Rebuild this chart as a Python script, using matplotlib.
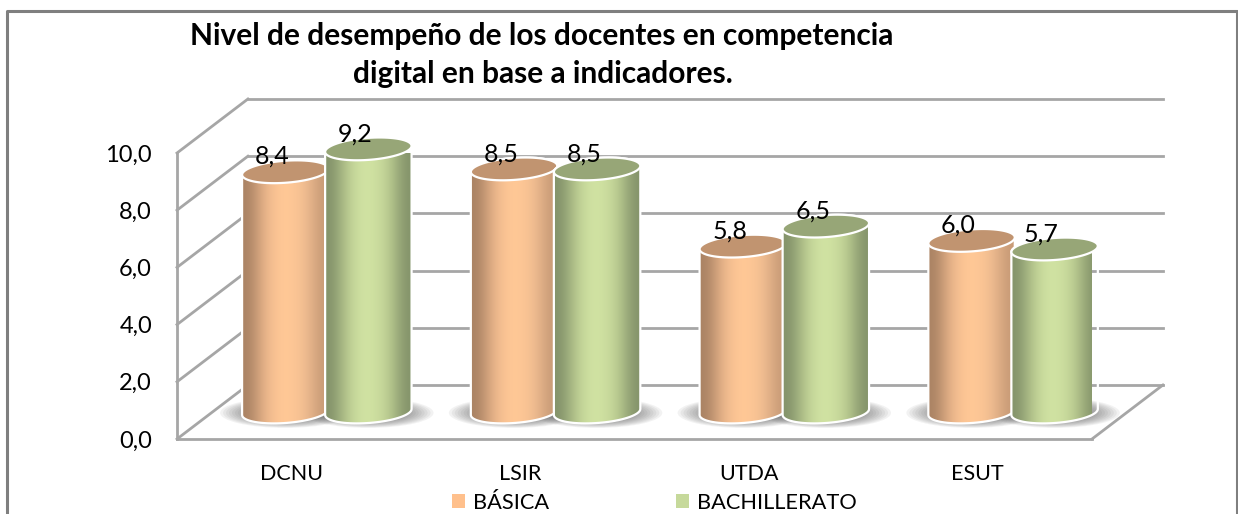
"""Nivel de desempeno chart, fake 3D cylinders drawn on a flat axes."""

import matplotlib

matplotlib.use("Agg")
import matplotlib.pyplot as plt
import numpy as np
from matplotlib.lines import Line2D
from matplotlib.patches import Ellipse, PathPatch, Patch
from matplotlib.path import Path

categories = ["DCNU", "LSIR", "UTDA", "ESUT"]
basica = [8.4, 8.5, 5.8, 6.0]
bachillerato = [9.2, 8.5, 6.5, 5.7]
y_ticks = [0, 2, 4, 6, 8, 10]
title_lines = ["Nivel de desempeño de los docentes en competencia",
               "digital en base a indicadores."]

W, H = 1238, 514
GRID = "#A6A6A6"
DEPTH_X, DEPTH_Y = 0.31, 1.888
OFFSET, HALF_W = 0.1815, 0.189
ELL_B, ELL_TILT = 0.385, 0.105

ORANGE = ["#A98263", "#E6B289", "#FFC896", "#FFC896", "#EEBB90", "#C79A76"]
GREEN = ["#83926A", "#B8C98F", "#D2E4A4", "#CFE1A1", "#B9CA90", "#84936A"]
ORANGE_TOP = "#C19470"
GREEN_TOP = "#97A677"

plt.rcParams["font.family"] = ["Lato", "DejaVu Sans"]

fig = plt.figure(figsize=(W / 100, H / 100), dpi=100)
ax = fig.add_axes([177 / W, (H - 439) / H, 915 / W, 286 / H])
ax.set_xlim(0, 4)
ax.set_ylim(0, 10)
ax.patch.set_visible(False)

for s in ["top", "right"]:
    ax.spines[s].set_visible(False)
for s in ["left", "bottom"]:
    ax.spines[s].set_color(GRID)
    ax.spines[s].set_linewidth(2)

# walls
for v in y_ticks:
    ax.plot([DEPTH_X, 4 + DEPTH_X], [v + DEPTH_Y] * 2, color=GRID, lw=2, clip_on=False, zorder=1)
    ax.plot([0, DEPTH_X], [v, v + DEPTH_Y], color=GRID, lw=2, clip_on=False, zorder=1)
ax.plot([4, 4 + DEPTH_X], [0, DEPTH_Y], color=GRID, lw=2, clip_on=False, zorder=1)


def ellipse_xy(cx, cy):
    t = np.linspace(0, 2 * np.pi, 80)
    return cx + HALF_W * np.cos(t), cy + ELL_B * np.sin(t) + ELL_TILT * np.cos(t)


def shadow(cx, z):
    for k in range(16):
        f = 1 - k / 22
        ax.add_patch(Ellipse((cx, DEPTH_Y / 2 - 0.03), 0.57 * f, 1.05 * f, fc="#505050", ec="none",
                             alpha=0.07, zorder=z, clip_on=False))


def cylinder(cx, value, colors, top_color, z):
    base_y = DEPTH_Y / 2
    top_y = base_y + value
    t = np.linspace(np.pi, 2 * np.pi, 40)
    lo_x = cx + HALF_W * np.cos(t)
    lo_y = base_y + ELL_B * np.sin(t) + ELL_TILT * np.cos(t)
    t2 = np.linspace(0, np.pi, 40)
    hi_x = cx + HALF_W * np.cos(t2)
    hi_y = top_y + ELL_B * np.sin(t2) + ELL_TILT * np.cos(t2)
    verts = np.column_stack([np.r_[lo_x, hi_x], np.r_[lo_y, hi_y]])
    body = PathPatch(Path(np.vstack([verts, verts[:1]]), closed=True), fc="none", ec="white",
                     lw=1.6, zorder=z + 0.2, clip_on=False)
    ax.add_patch(body)
    rgb = np.array([matplotlib.colors.to_rgb(c) for c in colors])
    grad = rgb[np.newaxis, :, :]
    im = ax.imshow(grad, extent=[cx - HALF_W, cx + HALF_W, base_y - 1, top_y + 1], aspect="auto",
                   interpolation="bicubic", zorder=z + 0.1)
    clip = PathPatch(Path(np.vstack([verts, verts[:1]]), closed=True), transform=ax.transData)
    im.set_clip_path(clip)
    ex, ey = ellipse_xy(cx, top_y)
    ax.fill(ex, ey, fc=top_color, ec="white", lw=1.6, zorder=z + 0.3, clip_on=False)


for i in range(len(categories)):
    center = i + 0.5 + DEPTH_X / 2
    shadow(center - OFFSET, 2)
    shadow(center + OFFSET, 2)
    cylinder(center - OFFSET, basica[i], ORANGE, ORANGE_TOP, 3 + i)
    cylinder(center + OFFSET, bachillerato[i], GREEN, GREEN_TOP, 3.5 + i)
    for dx, v in [(-OFFSET, basica[i]), (OFFSET, bachillerato[i])]:
        ax.annotate(f"{v:.1f}".replace(".", ","), (center + dx, v + DEPTH_Y / 2),
                    xytext=(-9.5, 11), textcoords="offset points", ha="center", va="center",
                    fontsize=18, color="black", zorder=20, annotation_clip=False)

ax.set_xlim(0, 4)
ax.set_ylim(0, 10)
ax.set_xticks(np.arange(len(categories)) + 0.5, categories)
ax.set_yticks(y_ticks, [f"{v:.1f}".replace(".", ",") for v in y_ticks])
ax.tick_params(axis="x", length=0, pad=18, labelsize=15.5)
ax.tick_params(axis="y", length=0, pad=18, labelsize=17)

handles = [Patch(fc="#FFC08C", ec="none"), Patch(fc="#C6D99B", ec="none")]
fig.legend(handles, ["BÁSICA", "BACHILLERATO"], ncols=2, frameon=False, fontsize=15.7,
           loc="center", bbox_to_anchor=(654.5 / W, 1 - 503 / H), handlelength=0.6, handleheight=0.6,
           handletextpad=0.37, columnspacing=5.8, borderpad=0, labelspacing=0, borderaxespad=0)

fig.text(541.5 / W, 1 - 45 / H, title_lines[0], ha="center", va="baseline", fontsize=21.5,
         fontweight="bold", color="black")
fig.text(543 / W, 1 - 83 / H, title_lines[1], ha="center", va="baseline", fontsize=21.5,
         fontweight="bold", color="black")

# outer frame of the picture
fx = [7 / W, 7 / W, 1237 / W, 1237 / W]
fy = [0, 1 - 10.5 / H, 1 - 10.5 / H, 0]
fig.add_artist(Line2D(fx, fy, color="#7F7F7F", lw=2.2, transform=fig.transFigure))

fig.savefig("out.png", dpi=100)
